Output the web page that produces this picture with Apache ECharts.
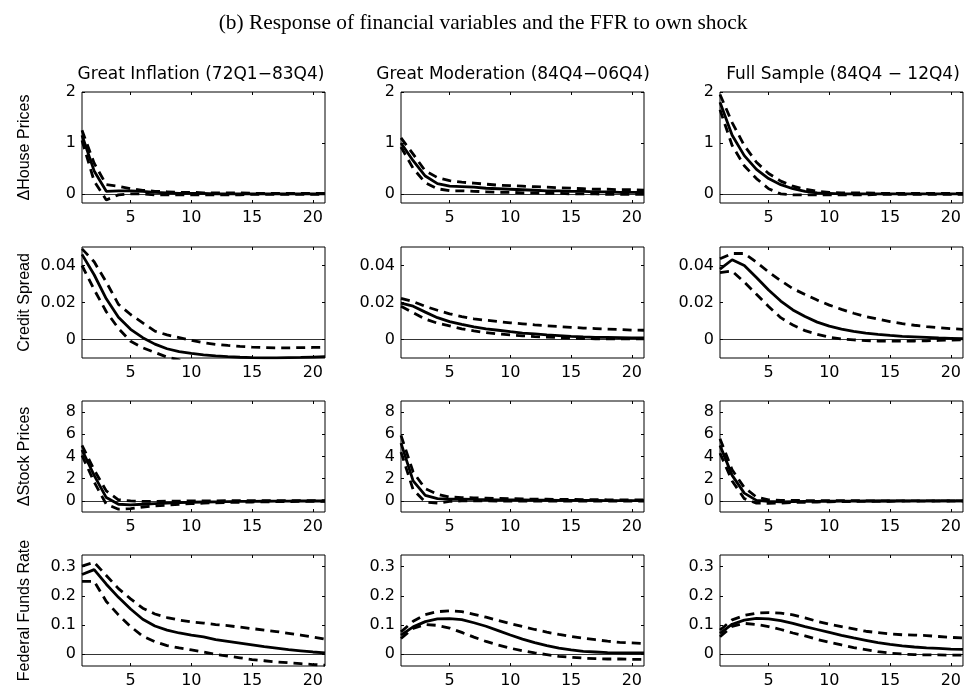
<!DOCTYPE html>
<html>
<head>
<meta charset="utf-8">
<script src="https://cdn.jsdelivr.net/npm/echarts@6/dist/echarts.min.js"></script>
<style>
  html, body { margin: 0; padding: 0; background: #fff; }
  #chart { width: 964px; height: 689px; }
</style>
</head>
<body>
<div id="chart"></div>
<script>
// Impulse-response horizons (quarters)
const horizons = [1, 2, 3, 4, 5, 6, 7, 8, 9, 10, 11, 12, 13, 14, 15, 16, 17, 18, 19, 20, 21];
const xTicks = [5, 10, 15, 20];

const mainTitle = '(b) Response of financial variables and the FFR to own shock';
const columnTitles = ['Great Inflation (72Q1\u221283Q4)', 'Great Moderation (84Q4\u221206Q4)', 'Full Sample (84Q4 \u2212 12Q4)'];
const rowNames = ['\u0394House Prices', 'Credit Spread', '\u0394Stock Prices', 'Federal Funds Rate'];

const yTicksHouse = [0, 1, 2];
const yTicksSpread = [0, 0.02, 0.04];
const yTicksStock = [0, 2, 4, 6, 8];
const yTicksFFR = [0, 0.1, 0.2, 0.3];

// --- House prices ---
const giHouseMid = [1.15, 0.45, 0.05, 0.06, 0.06, 0.05, 0.03, 0.02, 0.01, 0.01, 0.01, 0.0, 0.0, 0.0, 0.0, 0.0, 0.0, 0.0, 0.0, 0.0, 0.0];
const giHouseUp  = [1.25, 0.6, 0.18, 0.15, 0.1, 0.07, 0.05, 0.04, 0.03, 0.03, 0.02, 0.02, 0.02, 0.02, 0.01, 0.01, 0.01, 0.01, 0.01, 0.01, 0.01];
const giHouseLo  = [1.05, 0.25, -0.12, -0.02, 0.0, 0.0, -0.02, -0.02, -0.02, -0.02, -0.02, -0.02, -0.02, -0.02, -0.01, -0.01, -0.01, -0.01, -0.01, -0.01, -0.01];

const gmHouseMid = [1.0, 0.65, 0.35, 0.2, 0.15, 0.14, 0.13, 0.11, 0.1, 0.09, 0.08, 0.07, 0.06, 0.06, 0.05, 0.05, 0.04, 0.04, 0.03, 0.03, 0.03];
const gmHouseUp  = [1.1, 0.78, 0.45, 0.32, 0.26, 0.23, 0.21, 0.19, 0.17, 0.16, 0.15, 0.14, 0.13, 0.12, 0.11, 0.1, 0.09, 0.09, 0.08, 0.08, 0.07];
const gmHouseLo  = [0.92, 0.5, 0.22, 0.1, 0.06, 0.06, 0.05, 0.04, 0.03, 0.03, 0.02, 0.02, 0.01, 0.01, 0.0, 0.0, 0.0, -0.01, -0.01, -0.01, -0.01];

const fsHouseMid = [1.8, 1.15, 0.75, 0.48, 0.3, 0.18, 0.1, 0.05, 0.02, 0.01, 0.0, 0.0, 0.0, 0.0, 0.0, 0.0, 0.0, 0.0, 0.0, 0.0, 0.0];
const fsHouseUp  = [1.95, 1.4, 0.95, 0.62, 0.4, 0.25, 0.15, 0.09, 0.05, 0.03, 0.02, 0.02, 0.02, 0.01, 0.01, 0.01, 0.01, 0.01, 0.01, 0.01, 0.01];
const fsHouseLo  = [1.65, 0.95, 0.55, 0.3, 0.1, 0.0, -0.02, -0.02, -0.02, -0.02, -0.02, -0.02, -0.02, -0.01, -0.01, -0.01, -0.01, -0.01, -0.01, -0.01, -0.01];

// --- Credit spread ---
const giSpreadMid = [0.046, 0.035, 0.022, 0.012, 0.0055, 0.001, -0.0025, -0.005, -0.0065, -0.0075, -0.0083, -0.0089, -0.0093, -0.0096, -0.0098, -0.0099, -0.0099, -0.0098, -0.0097, -0.0095, -0.0093];
const giSpreadUp  = [0.049, 0.042, 0.031, 0.019, 0.0135, 0.009, 0.0045, 0.0025, 0.001, -0.0005, -0.0018, -0.0026, -0.0032, -0.0037, -0.0041, -0.0044, -0.0045, -0.0045, -0.0044, -0.0043, -0.0042];
const giSpreadLo  = [0.040, 0.027, 0.015, 0.006, -0.001, -0.0045, -0.007, -0.0095, -0.011, -0.0125, -0.0135, -0.0145, -0.015, -0.0155, -0.016, -0.016, -0.016, -0.016, -0.0155, -0.015, -0.015];

const gmSpreadMid = [0.0197, 0.018, 0.0148, 0.0118, 0.0097, 0.0082, 0.0068, 0.0058, 0.005, 0.0042, 0.0035, 0.003, 0.0025, 0.0021, 0.0017, 0.0014, 0.0012, 0.0011, 0.001, 0.0009, 0.0009];
const gmSpreadUp  = [0.0222, 0.0205, 0.0179, 0.0158, 0.0139, 0.0124, 0.0112, 0.0104, 0.0097, 0.009, 0.0085, 0.0079, 0.0074, 0.007, 0.0066, 0.0062, 0.0059, 0.0056, 0.0054, 0.0051, 0.005];
const gmSpreadLo  = [0.018, 0.0145, 0.011, 0.0088, 0.0074, 0.0058, 0.0047, 0.0037, 0.003, 0.0025, 0.002, 0.0016, 0.0013, 0.001, 0.0007, 0.0005, 0.0004, 0.0003, 0.0003, 0.0003, 0.0003];

const fsSpreadMid = [0.038, 0.0431, 0.040, 0.0335, 0.0268, 0.0208, 0.016, 0.0124, 0.0094, 0.0072, 0.0056, 0.0044, 0.0035, 0.0028, 0.0022, 0.0017, 0.0014, 0.0011, 0.0008, 0.0006, 0.0004];
const fsSpreadUp  = [0.0436, 0.0465, 0.0465, 0.0418, 0.0365, 0.0318, 0.0275, 0.0243, 0.0213, 0.0186, 0.0163, 0.0142, 0.0124, 0.011, 0.0097, 0.0086, 0.0077, 0.007, 0.0064, 0.0059, 0.0055];
const fsSpreadLo  = [0.0362, 0.037, 0.031, 0.0245, 0.0178, 0.0118, 0.0078, 0.0048, 0.0028, 0.0012, 0.0003, -0.0002, -0.0006, -0.0008, -0.0009, -0.0009, -0.0008, -0.0007, -0.0005, -0.0003, -0.0001];

// --- Stock prices ---
const giStockMid = [4.6, 2.3, 0.3, -0.3, -0.35, -0.3, -0.25, -0.2, -0.15, -0.12, -0.1, -0.08, -0.06, -0.05, -0.04, -0.03, -0.02, -0.02, -0.01, -0.01, -0.01];
const giStockUp  = [5.0, 2.8, 0.9, 0.1, 0.0, -0.05, -0.05, -0.03, -0.02, 0.0, 0.0, 0.01, 0.02, 0.02, 0.02, 0.02, 0.02, 0.02, 0.02, 0.02, 0.02];
const giStockLo  = [4.1, 1.7, -0.3, -0.75, -0.7, -0.55, -0.45, -0.38, -0.3, -0.25, -0.2, -0.17, -0.14, -0.12, -0.1, -0.08, -0.07, -0.06, -0.05, -0.05, -0.04];

const gmStockMid = [5.2, 1.8, 0.5, 0.2, 0.15, 0.15, 0.13, 0.12, 0.1, 0.09, 0.08, 0.07, 0.06, 0.05, 0.05, 0.04, 0.04, 0.03, 0.03, 0.03, 0.02];
const gmStockUp  = [5.9, 2.6, 1.1, 0.6, 0.35, 0.3, 0.28, 0.25, 0.22, 0.2, 0.18, 0.16, 0.15, 0.14, 0.13, 0.12, 0.11, 0.1, 0.1, 0.09, 0.09];
const gmStockLo  = [4.4, 1.0, -0.1, -0.2, -0.05, 0.0, 0.0, 0.0, -0.01, -0.01, -0.01, -0.01, -0.02, -0.02, -0.02, -0.02, -0.02, -0.02, -0.02, -0.02, -0.02];

const fsStockMid = [5.0, 2.3, 0.7, 0.05, -0.05, -0.08, -0.06, -0.05, -0.04, -0.03, -0.02, -0.02, -0.01, -0.01, -0.01, 0.0, 0.0, 0.0, 0.0, 0.0, 0.0];
const fsStockUp  = [5.6, 2.8, 1.2, 0.35, 0.1, 0.05, 0.04, 0.03, 0.03, 0.02, 0.02, 0.02, 0.01, 0.01, 0.01, 0.01, 0.01, 0.01, 0.01, 0.01, 0.01];
const fsStockLo  = [4.3, 1.8, 0.2, -0.2, -0.22, -0.2, -0.15, -0.12, -0.1, -0.08, -0.06, -0.05, -0.04, -0.03, -0.03, -0.02, -0.02, -0.02, -0.01, -0.01, -0.01];

// --- Federal funds rate ---
const giFfrMid = [0.273, 0.29, 0.24, 0.195, 0.155, 0.12, 0.097, 0.083, 0.073, 0.066, 0.06, 0.05, 0.044, 0.038, 0.032, 0.026, 0.021, 0.016, 0.012, 0.008, 0.005];
const giFfrUp  = [0.302, 0.315, 0.27, 0.225, 0.19, 0.158, 0.138, 0.126, 0.117, 0.111, 0.107, 0.102, 0.098, 0.093, 0.088, 0.083, 0.078, 0.072, 0.066, 0.059, 0.052];
const giFfrLo  = [0.25, 0.25, 0.181, 0.135, 0.095, 0.062, 0.043, 0.03, 0.022, 0.015, 0.008, 0.0, -0.006, -0.012, -0.018, -0.022, -0.026, -0.029, -0.032, -0.035, -0.037];

const gmFfrMid = [0.066, 0.094, 0.112, 0.121, 0.122, 0.119, 0.108, 0.096, 0.081, 0.066, 0.052, 0.04, 0.03, 0.021, 0.015, 0.01, 0.008, 0.006, 0.005, 0.0045, 0.0045];
const gmFfrUp  = [0.077, 0.113, 0.136, 0.146, 0.149, 0.146, 0.137, 0.127, 0.116, 0.105, 0.095, 0.085, 0.076, 0.068, 0.061, 0.055, 0.05, 0.045, 0.041, 0.039, 0.037];
const gmFfrLo  = [0.054, 0.089, 0.102, 0.099, 0.09, 0.075, 0.059, 0.044, 0.032, 0.021, 0.012, 0.005, -0.001, -0.007, -0.01, -0.013, -0.015, -0.016, -0.016, -0.017, -0.017];

const fsFfrMid = [0.072, 0.103, 0.117, 0.123, 0.121, 0.115, 0.106, 0.095, 0.085, 0.075, 0.065, 0.056, 0.048, 0.04, 0.034, 0.029, 0.025, 0.022, 0.02, 0.018, 0.017];
const fsFfrUp  = [0.083, 0.118, 0.133, 0.141, 0.143, 0.141, 0.135, 0.125, 0.113, 0.103, 0.095, 0.087, 0.079, 0.074, 0.07, 0.067, 0.066, 0.064, 0.061, 0.058, 0.056];
const fsFfrLo  = [0.06, 0.096, 0.106, 0.102, 0.095, 0.085, 0.073, 0.063, 0.051, 0.041, 0.032, 0.023, 0.016, 0.009, 0.004, 0.001, -0.001, -0.002, -0.002, -0.003, -0.003];

// Panel grid: rows = variables, columns = samples
const panels = [
  [[giHouseUp, giHouseMid, giHouseLo], [gmHouseUp, gmHouseMid, gmHouseLo], [fsHouseUp, fsHouseMid, fsHouseLo]],
  [[giSpreadUp, giSpreadMid, giSpreadLo], [gmSpreadUp, gmSpreadMid, gmSpreadLo], [fsSpreadUp, fsSpreadMid, fsSpreadLo]],
  [[giStockUp, giStockMid, giStockLo], [gmStockUp, gmStockMid, gmStockLo], [fsStockUp, fsStockMid, fsStockLo]],
  [[giFfrUp, giFfrMid, giFfrLo], [gmFfrUp, gmFfrMid, gmFfrLo], [fsFfrUp, fsFfrMid, fsFfrLo]]
];
const rowTicks = [yTicksHouse, yTicksSpread, yTicksStock, yTicksFFR];

// Layout and axis limits
const colLeft = [82, 401, 720];
const colTitleX = [201, 513, 843];
const rowTop = [92, 247, 401, 555];
const panelW = 243, panelH = 111;
const rowMin = [-0.18, -0.01, -1, -0.04];
const rowMax = [2, 0.05, 9, 0.34];

const sansH = 'DejaVu Sans';
const sansV = 'Liberation Sans';
const fmt = v => String(+Number(v).toFixed(4));

const grids = [], xAxes = [], yAxes = [], series = [];
const topX = [], rightY = [];
let idx = 0;
for (let r = 0; r < 4; r++) {
  for (let c = 0; c < 3; c++) {
    grids.push({
      left: colLeft[c], top: rowTop[r], width: panelW, height: panelH,
      show: true, borderColor: '#000', borderWidth: 1, backgroundColor: 'transparent'
    });
    xAxes.push({
      type: 'value', gridIndex: idx, min: 1, max: 21, position: 'bottom',
      axisLine: { show: false, onZero: false },
      axisTick: { show: true, inside: true, length: 3, customValues: xTicks, lineStyle: { color: '#000', width: 1 } },
      axisLabel: { show: true, customValues: xTicks, margin: 7, color: '#000', fontFamily: sansH, fontSize: 16, formatter: fmt },
      splitLine: { show: false }
    });
    topX.push({
      type: 'value', gridIndex: idx, min: 1, max: 21, position: 'top',
      axisLine: { show: false, onZero: false },
      axisTick: { show: true, inside: true, length: 3, customValues: xTicks, lineStyle: { color: '#000', width: 1 } },
      axisLabel: { show: false },
      splitLine: { show: false }
    });
    yAxes.push({
      type: 'value', gridIndex: idx, min: rowMin[r], max: rowMax[r], position: 'left',
      name: c === 0 ? rowNames[r] : '',
      nameLocation: 'middle', nameRotate: 90, nameGap: 49,
      nameTextStyle: { color: '#000', fontFamily: sansV, fontSize: 16, fontWeight: 'normal' },
      axisLine: { show: false, onZero: false },
      axisTick: { show: true, inside: true, length: 3, customValues: rowTicks[r], lineStyle: { color: '#000', width: 1 } },
      axisLabel: { show: true, customValues: rowTicks[r], margin: 6, color: '#000', fontFamily: sansH, fontSize: 16, formatter: fmt },
      splitLine: { show: false }
    });
    rightY.push({
      type: 'value', gridIndex: idx, min: rowMin[r], max: rowMax[r], position: 'right',
      axisLine: { show: false, onZero: false },
      axisTick: { show: true, inside: true, length: 3, customValues: rowTicks[r], lineStyle: { color: '#000', width: 1 } },
      axisLabel: { show: false },
      splitLine: { show: false }
    });

    const [up, mid, lo] = panels[r][c];
    const pts = arr => horizons.map((h, i) => [h, arr[i]]);
    const dashed = { color: '#000', width: 2.8, type: [9, 6] };
    series.push({
      type: 'line', xAxisIndex: idx, yAxisIndex: idx, data: pts(mid),
      symbol: 'none', clip: true, silent: true, z: 3,
      lineStyle: { color: '#000', width: 2.8 },
      markLine: {
        silent: true, symbol: ['none', 'none'], label: { show: false },
        lineStyle: { color: '#000', width: 0.8, type: 'solid' },
        data: [{ yAxis: 0 }]
      }
    });
    series.push({
      type: 'line', xAxisIndex: idx, yAxisIndex: idx, data: pts(up),
      symbol: 'none', clip: true, silent: true, z: 4, lineStyle: dashed
    });
    series.push({
      type: 'line', xAxisIndex: idx, yAxisIndex: idx, data: pts(lo),
      symbol: 'none', clip: true, silent: true, z: 4, lineStyle: dashed
    });
    idx++;
  }
}

const titles = [{
  text: mainTitle, left: 483, top: 13, textAlign: 'center', padding: 0,
  textStyle: { fontFamily: 'Liberation Serif', fontWeight: 'normal', fontSize: 21.4, color: '#000' }
}];
for (let c = 0; c < 3; c++) {
  titles.push({
    text: columnTitles[c], left: colTitleX[c], top: 66, textAlign: 'center', padding: 0,
    textStyle: { fontFamily: sansH, fontWeight: 'normal', fontSize: 17, color: '#000' }
  });
}

const chart = echarts.init(document.getElementById('chart'), null, { renderer: 'canvas' });
chart.setOption({
  animation: false,
  backgroundColor: '#fff',
  title: titles,
  grid: grids,
  xAxis: xAxes.concat(topX),
  yAxis: yAxes.concat(rightY),
  series: series
});
</script>
</body>
</html>
